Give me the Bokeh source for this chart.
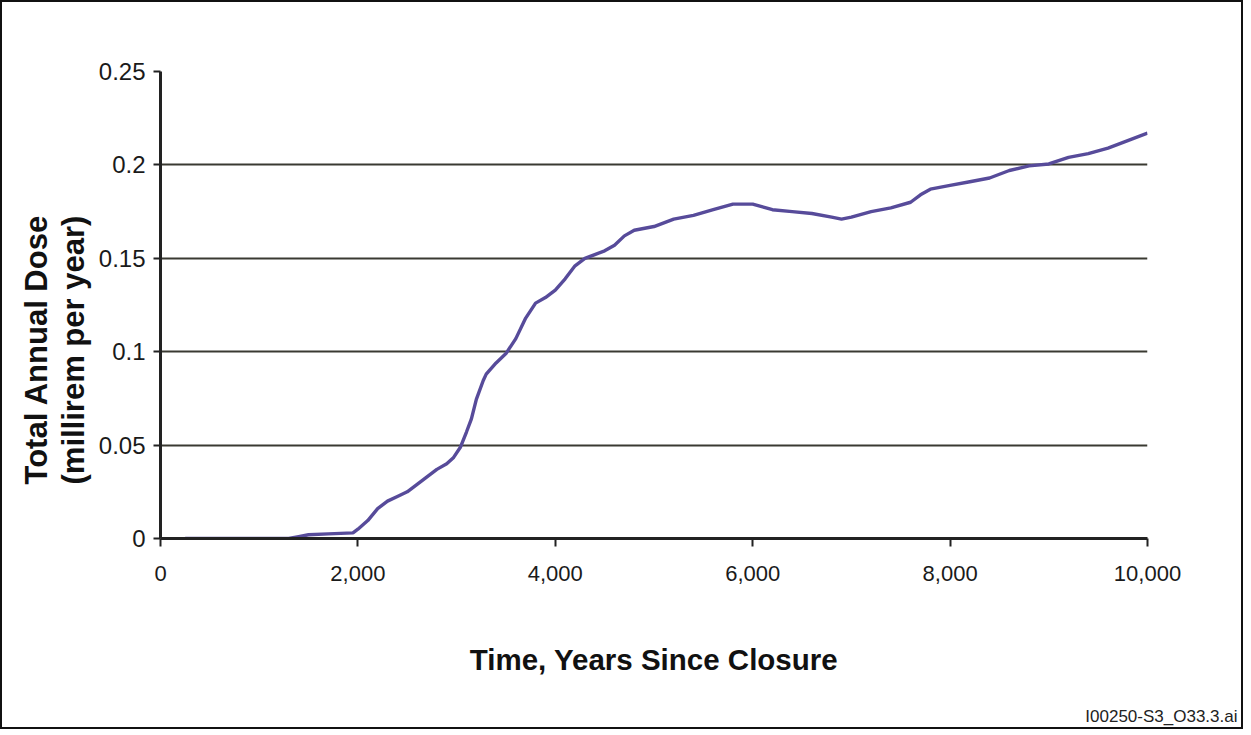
from bokeh.plotting import figure
from bokeh.models import Range1d, FixedTicker, NumeralTickFormatter, Title, ColumnDataSource
from bokeh.embed import file_html
from bokeh.resources import INLINE

# ---- data ----
years = [250, 500, 1000, 1300, 1400, 1500, 1700, 1950, 2000, 2100, 2200, 2300, 2400,
         2500, 2600, 2700, 2800, 2900, 2970, 3040, 3100, 3150, 3200, 3270, 3300, 3400,
         3500, 3600, 3700, 3800, 3900, 4000, 4100, 4200, 4300, 4400, 4500, 4600, 4700,
         4800, 5000, 5200, 5400, 5600, 5800, 6000, 6200, 6400, 6600, 6800, 6900, 7000,
         7200, 7400, 7600, 7700, 7800, 8000, 8200, 8400, 8600, 8800, 9000, 9200, 9400,
         9600, 9800, 10000]
dose = [0.0, 0.0, 0.0, 0.0, 0.001, 0.002, 0.0025, 0.003, 0.005, 0.0096, 0.016, 0.020, 0.0225,
        0.025, 0.029, 0.033, 0.037, 0.040, 0.0434, 0.049, 0.057, 0.064, 0.0745, 0.0846, 0.088, 0.094,
        0.099, 0.107, 0.118, 0.126, 0.129, 0.133, 0.139, 0.146, 0.150, 0.152, 0.154, 0.157, 0.162,
        0.165, 0.167, 0.171, 0.173, 0.176, 0.179, 0.179, 0.176, 0.175, 0.174, 0.172, 0.171, 0.172,
        0.175, 0.177, 0.180, 0.184, 0.187, 0.189, 0.191, 0.193, 0.197, 0.1995, 0.2005, 0.204, 0.206,
        0.209, 0.213, 0.217]

x_ticks = [0, 2000, 4000, 6000, 8000, 10000]
y_ticks = [0, 0.05, 0.1, 0.15, 0.2, 0.25]
y_tick_labels = ["0", "0.05", "0.1", "0.15", "0.2", "0.25"]

x_title = "Time, Years Since Closure"
y_title = "Total Annual Dose\n(millirem per year)"
footnote = "I00250-S3_O33.3.ai"

FONT = "Liberation Sans"
W, H = 1243, 729

p = figure(width=W, height=H, output_backend="svg", toolbar_location=None,
           x_range=Range1d(0, 10000), y_range=Range1d(0, 0.25),
           min_border_left=158, min_border_right=98, min_border_top=69,
           min_border_bottom=193)
p.styles = {"border": "2px solid #111111"}
p.background_fill_color = "white"
p.border_fill_color = "white"
p.outline_line_color = None

src = ColumnDataSource(dict(x=years, y=dose))
p.line("x", "y", source=src, line_color="#574b9a", line_width=3.4)

# grid
p.xgrid.visible = False
p.ygrid.ticker = FixedTicker(ticks=y_ticks)
p.ygrid.grid_line_color = "#3a3a32"
p.ygrid.grid_line_width = 2

# x axis
xa = p.xaxis[0]
xa.ticker = FixedTicker(ticks=x_ticks)
xa.formatter = NumeralTickFormatter(format="0,0")
xa.axis_line_width = 3
xa.axis_line_color = "#222222"
xa.major_tick_line_width = 2
xa.major_tick_line_color = "#222222"
xa.major_tick_in = 0
xa.major_tick_out = 8
xa.minor_tick_line_color = None
xa.major_label_text_font = FONT
xa.major_label_text_font_size = "22px"
xa.major_label_text_color = "#1a1a1a"
xa.major_label_standoff = 19
xa.axis_label = x_title
xa.axis_label_text_font = FONT
xa.axis_label_text_font_style = "bold"
xa.axis_label_text_font_size = "29.5px"
xa.axis_label_text_color = "#111111"
xa.axis_label_standoff = 59

# y axis
ya = p.yaxis[0]
ya.ticker = FixedTicker(ticks=y_ticks)
ya.major_label_overrides = {t: l for t, l in zip(y_ticks, y_tick_labels)}
ya.axis_line_width = 3
ya.axis_line_color = "#222222"
ya.major_tick_line_width = 2
ya.major_tick_line_color = "#222222"
ya.major_tick_in = 0
ya.major_tick_out = 7
ya.minor_tick_line_color = None
ya.major_label_text_font = FONT
ya.major_label_text_font_size = "24px"
ya.major_label_text_color = "#1a1a1a"
ya.major_label_standoff = 8

# y title: one two-line vertical title, anchored near the bottom of the frame
p.add_layout(Title(text=y_title, align="left", offset=54, text_font=FONT,
                   text_font_style="bold", text_font_size="31px",
                   text_line_height=1.05, text_color="#111111"), "left")

# spacer + footnote below the x-axis title
p.add_layout(Title(text=" ", text_font_size="8px"), "below")
p.add_layout(Title(text=footnote, align="right", offset=-90, text_font=FONT,
                   text_font_style="normal", text_font_size="17px",
                   text_color="#222222"), "below")

open("out.html", "w").write(file_html(p, INLINE))
